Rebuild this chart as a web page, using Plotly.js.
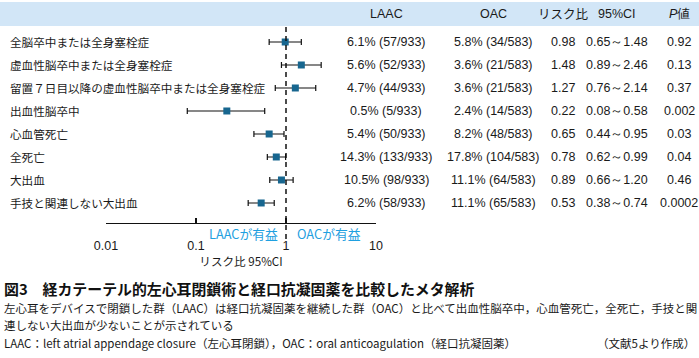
<!DOCTYPE html>
<html>
<head>
<meta charset="utf-8">
<script src="https://cdn.plot.ly/plotly-3.0.1.min.js"></script>
<style>
html,body{margin:0;padding:0;background:#fff;}
#chart{width:699px;height:358px;}
</style>
</head>
<body>
<div id="chart"></div>
<script>
// ---- data ----
const outcomes = ["全脳卒中または全身塞栓症","虚血性脳卒中または全身塞栓症","留置７日目以降の虚血性脳卒中または全身塞栓症","出血性脳卒中","心血管死亡","全死亡","大出血","手技と関連しない大出血"];
const riskRatio = [0.98,1.48,1.27,0.22,0.65,0.78,0.89,0.53];
const ciLow = [0.65,0.89,0.76,0.08,0.44,0.62,0.66,0.38];
const ciHigh = [1.48,2.46,2.14,0.58,0.95,0.99,1.20,0.74];
const laacText = ["6.1% (57/933)","5.6% (52/933)","4.7% (44/933)","0.5% (5/933)","5.4% (50/933)","14.3% (133/933)","10.5% (98/933)","6.2% (58/933)"];
const oacText = ["5.8% (34/583)","3.6% (21/583)","3.6% (21/583)","2.4% (14/583)","8.2% (48/583)","17.8% (104/583)","11.1% (64/583)","11.1% (65/583)"];
const rrText = ["0.98","1.48","1.27","0.22","0.65","0.78","0.89","0.53"];
const ciText = ["0.65～1.48","0.89～2.46","0.76～2.14","0.08～0.58","0.44～0.95","0.62～0.99","0.66～1.20","0.38～0.74"];
const pText = ["0.92","0.13","0.37","0.002","0.03","0.04","0.46","0.0002"];
const headers = ["LAAC","OAC","リスク比","95%CI","<i>P</i>値"];
const tickVals = [0.01,0.1,1,10];
const tickText = ["0.01","0.1","1","10"];
const favourLeft = "LAACが有益";
const favourRight = "OACが有益";
const xTitle = "リスク比 95%CI";
const captionTitle = "図3　経カテーテル的左心耳閉鎖術と経口抗凝固薬を比較したメタ解析";
const captionLines = ["左心耳をデバイスで閉鎖した群（LAAC）は経口抗凝固薬を継続した群（OAC）と比べて出血性脳卒中，心血管死亡，全死亡，手技と関","連しない大出血が少ないことが示されている","LAAC：left atrial appendage closure（左心耳閉鎖），OAC：oral anticoagulation（経口抗凝固薬）"];
const sourceNote = "（文献5より作成）";

// ---- geometry helpers (pixel -> paper) ----
const W = 699, H = 358;
const L = 106, R = 376, T = 27, B = 223;
const px = x => (x - L) / (R - L);
const py = y => (B - y) / (B - T);

const rows = outcomes.map((_, i) => i);
const JP = '"Noto Sans CJK JP", "Noto Sans", sans-serif';
const LAT = '"Liberation Sans", Arial, sans-serif';

const trace = {
  type: 'scatter', mode: 'markers',
  x: riskRatio, y: rows,
  marker: {symbol: 'square', size: 7, color: '#17668f'},
  error_x: {
    type: 'data', symmetric: false,
    array: riskRatio.map((v, i) => ciHigh[i] - v),
    arrayminus: riskRatio.map((v, i) => v - ciLow[i]),
    color: '#111', thickness: 1.2, width: 3
  },
  hoverinfo: 'skip', showlegend: false
};

const ann = [];
outcomes.forEach((t, i) => {
  ann.push({xref: 'paper', yref: 'y', x: px(8), y: i, xanchor: 'left', yanchor: 'middle', text: t, showarrow: false, font: {family: JP, size: 11.6, color: '#1a1a1a'}});
});
const colX = [386, 493, 563, 617, 679];
const colData = [laacText, oacText, rrText, ciText, pText];
colData.forEach((arr, c) => {
  arr.forEach((t, i) => {
    ann.push({xref: 'paper', yref: 'y', x: px(colX[c]), y: i, xanchor: 'center', yanchor: 'middle', text: t, showarrow: false, font: {family: LAT, size: 12.5, color: '#1a1a1a'}});
  });
});
headers.forEach((t, c) => {
  ann.push({xref: 'paper', yref: 'paper', x: px(colX[c]), y: py(14), xanchor: 'center', yanchor: 'middle', text: t, showarrow: false, font: {family: c === 2 ? JP : LAT, size: 12.5, color: '#1a1a1a'}});
});
ann.push({xref: 'paper', yref: 'paper', x: px(243), y: py(233), xanchor: 'center', yanchor: 'middle', text: favourLeft, showarrow: false, font: {family: JP, size: 12.8, color: '#1fa0e0'}});
ann.push({xref: 'paper', yref: 'paper', x: px(329), y: py(233), xanchor: 'center', yanchor: 'middle', text: favourRight, showarrow: false, font: {family: JP, size: 12.8, color: '#1fa0e0'}});
ann.push({xref: 'paper', yref: 'paper', x: px(2), y: py(288), xanchor: 'left', yanchor: 'middle', text: '<b>' + captionTitle + '</b>', showarrow: false, font: {family: JP, size: 14.9, color: '#111'}});
const capY = [308, 325, 343];
captionLines.forEach((t, i) => {
  ann.push({xref: 'paper', yref: 'paper', x: px(2), y: py(capY[i]), xanchor: 'left', yanchor: 'middle', text: t, showarrow: false, font: {family: JP, size: 11.5, color: '#1a1a1a'}});
});
ann.push({xref: 'paper', yref: 'paper', x: px(697), y: py(343), xanchor: 'right', yanchor: 'middle', text: sourceNote, showarrow: false, font: {family: JP, size: 11.5, color: '#1a1a1a'}});

const layout = {
  width: W, height: H,
  margin: {l: L, r: W - R, t: T, b: H - B},
  paper_bgcolor: '#fff', plot_bgcolor: 'rgba(0,0,0,0)',
  showlegend: false,
  xaxis: {
    type: 'log', range: [-2, 1],
    tickvals: tickVals, ticktext: tickText,
    ticks: 'inside', ticklen: 5, tickwidth: 1.2, tickcolor: '#111',
    showline: true, linecolor: '#111', linewidth: 1.3,
    showgrid: false, zeroline: false,
    tickfont: {family: LAT, size: 12.5, color: '#1a1a1a'},
    ticklabelstandoff: 11,
    title: {text: xTitle, font: {family: JP, size: 11.6, color: '#1a1a1a'}, standoff: 5},
    fixedrange: true
  },
  yaxis: {
    range: [7.87, -0.652], showticklabels: false, showgrid: false, zeroline: false, showline: false, ticks: '', fixedrange: true
  },
  shapes: [
    {type: 'rect', xref: 'paper', yref: 'paper', x0: px(0), x1: px(699), y0: py(26), y1: py(2), fillcolor: '#d2e6f7', line: {width: 0}, layer: 'below'},
    {type: 'line', xref: 'x', yref: 'paper', x0: 1, x1: 1, y0: py(239), y1: py(27), line: {color: '#111', width: 1.5, dash: '5px,4px'}}
  ],
  annotations: ann
};

Plotly.newPlot('chart', [trace], layout, {displayModeBar: false, staticPlot: true});
</script>
</body>
</html>
